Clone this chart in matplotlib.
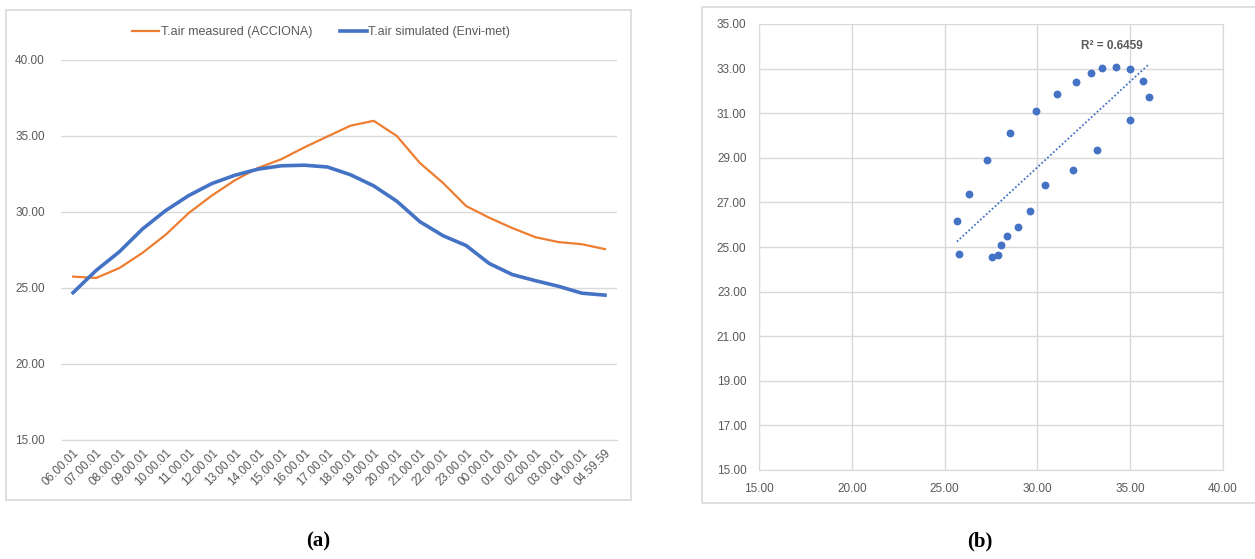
import numpy as np
from matplotlib import pyplot as plt
from matplotlib.patches import Rectangle

times = ['06.00.01', '07.00.01', '08.00.01', '09.00.01', '10.00.01', '11.00.01',
         '12.00.01', '13.00.01', '14.00.01', '15.00.01', '16.00.01', '17.00.01',
         '18.00.01', '19.00.01', '20.00.01', '21.00.01', '22.00.01', '23.00.01',
         '00.00.01', '01.00.01', '02.00.01', '03.00.01', '04.00.01', '04.59.59']
measured = [25.75, 25.66, 26.31, 27.31, 28.50, 29.93, 31.08, 32.09, 32.90, 33.47,
            34.25, 34.97, 35.68, 36.00, 35.00, 33.22, 31.91, 30.39, 29.62, 28.94,
            28.34, 28.02, 27.88, 27.56]
simulated = [24.69, 26.16, 27.38, 28.88, 30.09, 31.08, 31.87, 32.42, 32.82, 33.04,
             33.08, 32.96, 32.45, 31.72, 30.71, 29.36, 28.44, 27.79, 26.61, 25.88,
             25.48, 25.11, 24.66, 24.53]
r2_text = 'R² = 0.6459'

W, H = 1255, 559
grey = '#595959'
grid = '#d9d9d9'
orange = '#ED7D31'
blue = '#4472C4'
plt.rcParams['font.family'] = ['Liberation Sans', 'DejaVu Sans']

fig = plt.figure(figsize=(W / 100, H / 100), dpi=100)


def box(x0, y0, x1, y1):
    return [x0 / W, 1 - y1 / H, (x1 - x0) / W, (y1 - y0) / H]


# outer chart frames
fig.patches.append(Rectangle((6 / W, 1 - 500 / H), 625 / W, 490 / H, transform=fig.transFigure,
                             fill=False, edgecolor=grid, lw=1.2))
fig.patches.append(Rectangle((702 / W, 1 - 503 / H), 600 / W, 496 / H, transform=fig.transFigure,
                             fill=False, edgecolor=grid, lw=1.2))

# (a) line chart
ax = fig.add_axes(box(61.5, 60, 616.5, 440))
x = np.arange(len(times))
ax.plot(x, measured, color=orange, lw=1.6, label='T.air measured (ACCIONA)')
ax.plot(x, simulated, color=blue, lw=2.6, label='T.air simulated (Envi-met)')
ax.set_xlim(-0.5, len(times) - 0.5)
ax.set_ylim(15, 40)
ax.set_yticks(np.arange(15, 41, 5))
ax.set_yticklabels(['%.2f' % v for v in np.arange(15, 41, 5)])
ax.set_xticks(x)
ax.set_xticklabels(times, rotation=45, ha='right', rotation_mode='anchor')
ax.tick_params(length=0, colors=grey, labelsize=8.5)
ax.tick_params(axis='y', pad=12)
ax.tick_params(axis='x', pad=5)
ax.grid(axis='y', color=grid, lw=1)
ax.set_axisbelow(True)
for s in ax.spines.values():
    s.set_visible(False)
ax.spines['bottom'].set_visible(True)
ax.spines['bottom'].set_color(grid)
leg = ax.legend(loc='center', bbox_to_anchor=(0.4676, 1 + 28 / 380), ncol=2, frameon=False,
                fontsize=9, handlelength=2.2, handletextpad=0.1, columnspacing=2.2)
for t in leg.get_texts():
    t.set_color(grey)

# (b) scatter with linear trendline
bx = fig.add_axes(box(759, 24, 1223, 470))
bx.scatter(measured, simulated, s=32, color=blue, zorder=3, linewidths=0)
k, b = np.polyfit(measured, simulated, 1)
xs = np.array([min(measured), max(measured)])
bx.plot(xs, k * xs + b, color=blue, lw=1.3, linestyle=(0, (1, 1.2)), zorder=2)
bx.set_xlim(15, 40)
bx.set_ylim(15, 35)
bx.set_xticks(np.arange(15, 41, 5))
bx.set_xticklabels(['%.2f' % v for v in np.arange(15, 41, 5)])
bx.set_yticks(np.arange(15, 36, 2))
bx.set_yticklabels(['%.2f' % v for v in np.arange(15, 36, 2)])
bx.tick_params(length=0, colors=grey, labelsize=8.5)
bx.tick_params(axis='y', pad=9)
bx.tick_params(axis='x', pad=9)
bx.grid(color=grid, lw=1)
bx.set_axisbelow(True)
for s in bx.spines.values():
    s.set_color(grid)
bx.text(34.0, 34.0, r2_text, color=grey, fontsize=8.5, fontweight='bold',
        ha='center', va='center')

# captions
fig.text(318 / W, 1 - 541 / H, '(a)', ha='center', va='center', fontsize=15,
         fontweight='bold', family='Liberation Serif')
fig.text(980 / W, 1 - 541 / H, '(b)', ha='center', va='center', fontsize=15,
         fontweight='bold', family='Liberation Serif')

fig.savefig('out.png', dpi=100)
